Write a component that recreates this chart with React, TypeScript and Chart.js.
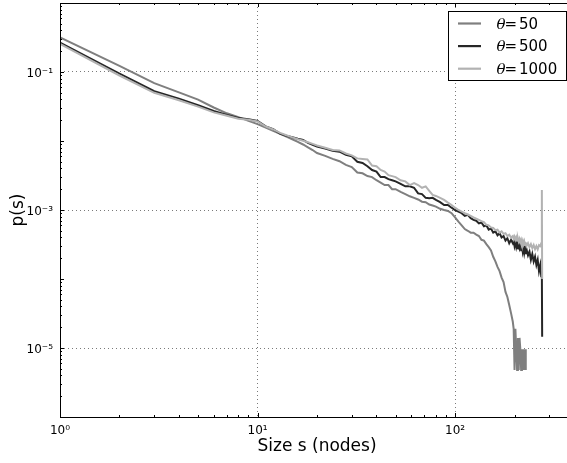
import React, { useEffect, useRef } from 'react';
import { Chart, registerables } from 'chart.js';

Chart.register(...registerables);

// ---- data (cluster size s, probability p(s)) ----
const sizes = [
  1, 2, 3, 4, 5, 6, 7, 8, 9, 10, 11, 12, 13, 14, 15, 16, 17, 18, 19, 20,
  22, 24, 26, 28, 30, 32, 34, 36, 38, 40,
  42, 44, 46, 48, 50, 53, 56, 59, 62, 65, 68, 71, 74, 77, 80, 84, 88, 92, 96, 100,
  104, 108, 112, 116, 120, 124, 128, 132, 136, 140, 144, 148, 152, 156, 160, 164, 168, 172, 176, 180, 184, 188, 192,
  196, 198, 200, 202, 204, 206, 208, 210, 212, 214, 216, 218, 220, 222, 224, 226, 228, 230,
  234, 238, 242, 246, 250, 254, 258, 262, 266, 270, 273, 275, 276,
];

const theta50: (number | null)[] = [
  0.318, 0.123, 0.069, 0.0506, 0.0398, 0.0306, 0.0252, 0.0222, 0.0196, 0.0176, 0.0156, 0.014, 0.0127, 0.0116, 0.0106, 0.0097, 0.0089, 0.0081, 0.0074, 0.0067,
  0.0061, 0.0055, 0.0051, 0.0045, 0.0042, 0.0035, 0.0034, 0.0031, 0.0030, 0.0027,
  0.0025, 0.0023, 0.0023, 0.002, 0.0020, 0.00183, 0.0017, 0.00158, 0.0015, 0.00142, 0.00132, 0.00130, 0.00120, 0.00116, 0.00112, 0.00104, 0.00100, 0.00097, 0.0009, 0.00078,
  0.00068, 0.0006, 0.00053, 0.0005, 0.00047, 0.00047, 0.00044, 0.00042, 0.00037, 0.00036, 0.00032, 0.00029, 0.00026, 0.00021, 0.00018, 0.00015, 0.00013, 0.000105, 0.00009, 0.000065, 0.000055, 0.000042, 0.000032,
  0.000024, 0.000019, 0.0000048, 0.000019, 0.0000096, 0.0000048, 0.000014, 0.0000048, 0.000014, 0.0000096, 0.0000048, 0.0000096, 0.0000048, 0.0000096, 0.0000048, 0.0000096, 0.0000048, null,
  null, null, null, null, null, null, null, null, null, null, null, null, null,
];

const theta500: (number | null)[] = [
  0.266, 0.0944, 0.0527, 0.0411, 0.033, 0.0272, 0.0239, 0.0215, 0.0207, 0.0195, 0.0163, 0.0148, 0.0128, 0.0119, 0.0113, 0.0108, 0.0104, 0.0094, 0.0088, 0.0083,
  0.0078, 0.0072, 0.0070, 0.0063, 0.0060, 0.0050, 0.0048, 0.0043, 0.0038, 0.0036,
  0.0030, 0.0030, 0.0028, 0.0027, 0.0026, 0.0024, 0.0022, 0.0022, 0.0021, 0.00174, 0.0017, 0.0015, 0.00148, 0.00150, 0.0014, 0.00130, 0.00118, 0.00118, 0.00108, 0.001,
  0.00095, 0.0009, 0.00082, 0.00085, 0.00076, 0.00072, 0.0007, 0.00064, 0.00066, 0.00058, 0.0006, 0.00052, 0.00054, 0.00047, 0.00049, 0.00043, 0.00046, 0.0004, 0.00042, 0.00036, 0.00039, 0.00033, 0.00037,
  0.00033, 0.00036, 0.0003, 0.00034, 0.00029, 0.00033, 0.00027, 0.00032, 0.00028, 0.00031, 0.00026, 0.0003, 0.00025, 0.00029, 0.00024, 0.00028, 0.00023, 0.00027,
  0.00022, 0.00025, 0.00019, 0.00023, 0.00018, 0.00021, 0.00016, 0.00019, 0.00013, 0.00016, 0.00011, 0.00012, 0.0000145,
];

const theta1000: (number | null)[] = [
  0.255, 0.089, 0.05, 0.039, 0.0315, 0.026, 0.0232, 0.021, 0.0203, 0.0192, 0.0162, 0.0147, 0.0131, 0.0121, 0.0113, 0.0106, 0.0101, 0.0096, 0.0091, 0.0086,
  0.008, 0.0074, 0.0073, 0.0066, 0.0062, 0.0056, 0.0055, 0.0054, 0.0044, 0.0043,
  0.0038, 0.0036, 0.0032, 0.0031, 0.0030, 0.0027, 0.0026, 0.0023, 0.00245, 0.0023, 0.0021, 0.0022, 0.0019, 0.00165, 0.0016, 0.0015, 0.0014, 0.00128, 0.00118, 0.00108,
  0.001, 0.00095, 0.0009, 0.00086, 0.00082, 0.00078, 0.00075, 0.00072, 0.00069, 0.00067, 0.00061, 0.0006, 0.00056, 0.00055, 0.00051, 0.00052, 0.00047, 0.00049, 0.00045, 0.00046, 0.00042, 0.00044, 0.0004,
  0.00042, 0.00038, 0.00041, 0.00037, 0.0004, 0.00036, 0.00039, 0.00035, 0.00038, 0.00034, 0.00037, 0.00033, 0.00036, 0.00032, 0.00035, 0.00031, 0.00034, 0.0003,
  0.00033, 0.00029, 0.00032, 0.00028, 0.00031, 0.00027, 0.0003, 0.00027, 0.00031, 0.0003, 0.00033, 0.00195, 0.0001,
];

const seriesThetas = ['50', '500', '1000'];
const seriesColors = ['#7f7f7f', '#262626', '#b2b2b2'];

const xMajorTicks = [1, 10, 100];
const xTickLabels = ['10\u2070', '10\u00B9', '10\u00B2'];
const yMajorTicks = [1e-1, 1e-3, 1e-5];
const yTickLabels = ['10\u207B\u00B9', '10\u207B\u00B3', '10\u207B\u2075'];
const xRange = [1, 400];
const yRange = [1e-6, 1];
const xTitle = 'Size s (nodes)';
const yTitle = 'p(s)';

// tick positions m*10^k inside a range
function logTickValues(min: number, max: number): number[] {
  const out: number[] = [];
  const k0 = Math.floor(Math.log10(min));
  const k1 = Math.ceil(Math.log10(max));
  for (let k = k0; k <= k1; k++) {
    for (let m = 1; m <= 9; m++) {
      const v = m * Math.pow(10, k);
      if (v >= min * 0.999999 && v <= max * 1.000001) out.push(v);
    }
  }
  return out;
}
const isDecade = (v: number) => Math.abs(Math.log10(v) - Math.round(Math.log10(v))) < 1e-7;
const findIdx = (list: number[], v: number) =>
  list.findIndex((m) => Math.abs(Math.log10(m) - Math.log10(v)) < 1e-7);

const xTicks = logTickValues(xRange[0], xRange[1]);
const yTicks = logTickValues(yRange[0], yRange[1]);

const framePlugin = {
  id: 'mplFrame',
  afterDraw(chart: any) {
    const { ctx, chartArea: a, scales } = chart;
    ctx.save();
    ctx.strokeStyle = '#000';
    ctx.lineWidth = 1;
    // ticks pointing inward
    ctx.beginPath();
    for (const v of xTicks) {
      const px = Math.round(scales.x.getPixelForValue(v)) + 0.5;
      const len = isDecade(v) ? 4 : 2;
      ctx.moveTo(px, a.bottom);
      ctx.lineTo(px, a.bottom - len);
      ctx.moveTo(px, a.top);
      ctx.lineTo(px, a.top + len);
    }
    for (const v of yTicks) {
      const py = Math.round(scales.y.getPixelForValue(v)) + 0.5;
      const len = isDecade(v) ? 4 : 2;
      ctx.moveTo(a.left, py);
      ctx.lineTo(a.left + len, py);
      ctx.moveTo(a.right, py);
      ctx.lineTo(a.right - len, py);
    }
    ctx.stroke();
    // frame
    ctx.strokeRect(Math.round(a.left) + 0.5, Math.round(a.top) + 0.5, Math.round(a.right - a.left), Math.round(a.bottom - a.top));

    // legend
    const right = a.right - 8;
    const top = a.top + 8;
    const w = 118;
    const h = 69;
    const left = right - w;
    ctx.fillStyle = '#fff';
    ctx.fillRect(left, top, w, h);
    ctx.strokeStyle = '#000';
    ctx.strokeRect(Math.round(left) + 0.5, Math.round(top) + 0.5, w, h);
    for (let i = 0; i < seriesThetas.length; i++) {
      const ly = top + 12.5 + i * 22.6;
      ctx.strokeStyle = seriesColors[i];
      ctx.lineWidth = 2.2;
      ctx.beginPath();
      ctx.moveTo(left + 10, ly);
      ctx.lineTo(left + 33, ly);
      ctx.stroke();
      ctx.fillStyle = '#000';
      ctx.textBaseline = 'alphabetic';
      ctx.textAlign = 'left';
      const by = ly + 5;
      ctx.font = 'italic 15px "DejaVu Serif"';
      ctx.fillText('\u03B8', left + 48.5, by);
      ctx.font = '15px "DejaVu Sans"';
      ctx.fillText('=', left + 56.5, by);
      ctx.fillText(seriesThetas[i], left + 71, by);
    }
    ctx.restore();
  },
};

function points(vals: (number | null)[]) {
  const out: { x: number; y: number }[] = [];
  sizes.forEach((s, i) => {
    const v = vals[i];
    if (v !== null && v !== undefined) out.push({ x: s, y: v });
  });
  return out;
}

export default function App() {
  const ref = useRef<HTMLCanvasElement | null>(null);
  useEffect(() => {
    if (!ref.current) return;
    const allSeries = [theta50, theta500, theta1000];
    const chart = new Chart(ref.current, {
      type: 'line',
      data: {
        datasets: allSeries.map((vals, i) => ({
          label: '\u03B8=' + seriesThetas[i],
          data: points(vals),
          borderColor: seriesColors[i],
          backgroundColor: seriesColors[i],
          borderWidth: 2,
          pointRadius: 0,
          tension: 0,
          fill: false,
          order: allSeries.length - 1 - i,
        })),
      },
      options: {
        animation: false,
        responsive: false,
        events: [],
        layout: { padding: { top: 3, right: 6, left: 0, bottom: 0 } },
        plugins: {
          legend: { display: false },
          tooltip: { enabled: false },
        },
        scales: {
          x: {
            type: 'logarithmic',
            min: xRange[0],
            max: xRange[1],
            afterBuildTicks: (s: any) => {
              s.ticks = xTicks.map((v) => ({ value: v }));
            },
            afterFit: (s: any) => {
              s.height = 46;
              s.paddingLeft = 0;
              s.paddingRight = 0;
              s.paddingTop = 0;
              s.paddingBottom = 0;
            },
            grid: {
              drawTicks: false,
              lineWidth: 1,
              color: (c: any) => {
                const v = c.tick ? c.tick.value : 0;
                return v > 1.5 && findIdx(xMajorTicks, v) >= 0 ? '#7a7a7a' : 'rgba(0,0,0,0)';
              },
            },
            border: { display: false, dash: [1, 3] },
            ticks: {
              autoSkip: false,
              maxRotation: 0,
              minRotation: 0,
              padding: 7,
              color: '#000',
              font: { family: 'DejaVu Sans', size: 12 },
              callback: (value: any) => {
                const idx = findIdx(xMajorTicks, Number(value));
                return idx >= 0 ? xTickLabels[idx] : '';
              },
            },
            title: {
              display: true,
              text: xTitle,
              color: '#000',
              font: { family: 'DejaVu Sans', size: 17 },
              padding: { top: 0, bottom: 6 },
            },
          },
          y: {
            type: 'logarithmic',
            min: yRange[0],
            max: yRange[1],
            afterBuildTicks: (s: any) => {
              s.ticks = yTicks.map((v) => ({ value: v }));
            },
            afterFit: (s: any) => {
              s.width = 60;
              s.paddingTop = 0;
              s.paddingBottom = 0;
              s.paddingLeft = 0;
              s.paddingRight = 0;
            },
            grid: {
              drawTicks: false,
              lineWidth: 1,
              color: (c: any) => {
                const v = c.tick ? c.tick.value : 0;
                return findIdx(yMajorTicks, v) >= 0 ? '#7a7a7a' : 'rgba(0,0,0,0)';
              },
            },
            border: { display: false, dash: [1, 3] },
            ticks: {
              autoSkip: false,
              padding: 7,
              labelOffset: 2,
              color: '#000',
              font: { family: 'DejaVu Sans', size: 12 },
              callback: (value: any) => {
                const idx = findIdx(yMajorTicks, Number(value));
                return idx >= 0 ? yTickLabels[idx] : '';
              },
            },
            title: {
              display: true,
              text: yTitle,
              color: '#000',
              font: { family: 'DejaVu Sans', size: 17 },
              padding: { top: 8, bottom: 0 },
            },
          },
        },
      } as any,
      plugins: [framePlugin],
    });
    return () => chart.destroy();
  }, []);

  return (
    <div
      style={{
        position: 'fixed',
        left: 0,
        top: 0,
        width: 567,
        height: 463,
        overflow: 'hidden',
        background: '#fff',
      }}
    >
      <canvas ref={ref} width={580} height={463} style={{ display: 'block' }} />
    </div>
  );
}
